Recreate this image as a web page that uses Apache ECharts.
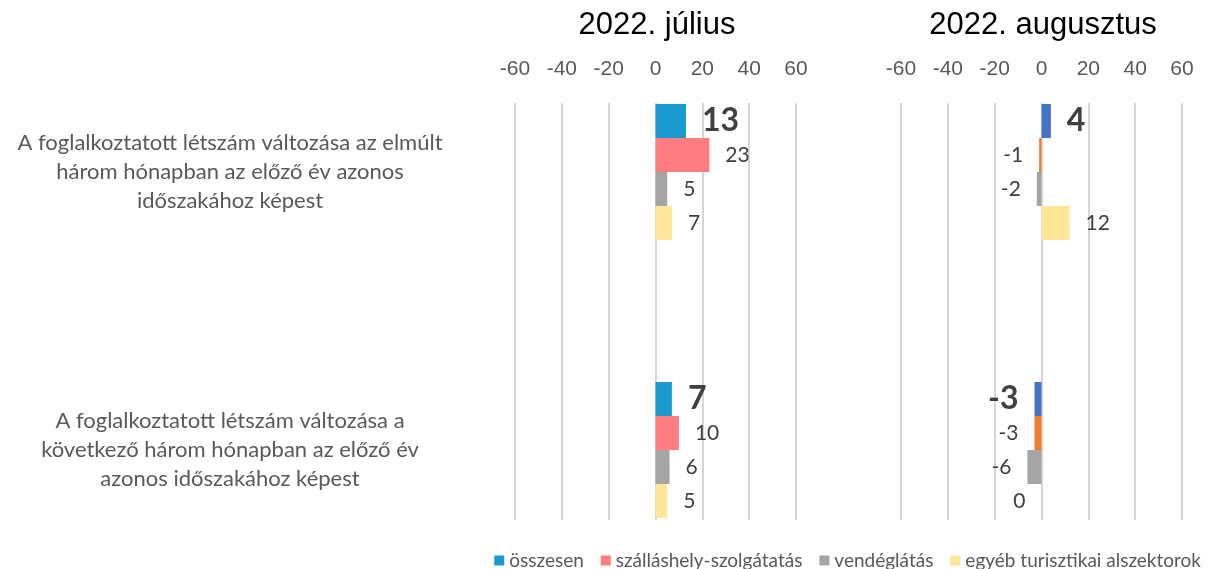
<!DOCTYPE html>
<html>
<head>
<meta charset="utf-8">
<script src="https://cdn.jsdelivr.net/npm/echarts@6/dist/echarts.min.js"></script>
<style>
  html, body { margin: 0; padding: 0; background: #fff; }
  #chart { width: 1209px; height: 569px; }
</style>
</head>
<body>
<div id="chart"></div>
<script>
// kategóriák (y tengely)
const categories = [
    'A foglalkoztatott létszám változása az elmúlt\nhárom hónapban az előző év azonos\nidőszakához képest',
    'A foglalkoztatott létszám változása a\nkövetkező három hónapban az előző év\nazonos időszakához képest'
];
const seriesNames = ['összesen', 'szálláshely-szolgátatás', 'vendéglátás', 'egyéb turisztikai alszektorok'];
const panelTitles = ['2022. július', '2022. augusztus'];
const xTicks = [-60, -40, -20, 0, 20, 40, 60];

// értékek sorozatonként: [elmúlt, következő]
const julyOsszesen = [13, 7];
const julySzallas = [23, 10];
const julyVendeg = [5, 6];
const julyEgyeb = [7, 5];
const augOsszesen = [4, -3];
const augSzallas = [-1, -3];
const augVendeg = [-2, -6];
const augEgyeb = [12, 0];

const julyColors = ['#1A9AD0', '#FF7C80', '#A5A5A5', '#FFE699'];
const augColors = ['#4472C4', '#ED7D31', '#A5A5A5', '#FFE699'];

let myChart = echarts.init(document.getElementById('chart'));

const FONT = 'Lato, Carlito, Calibri, sans-serif';
const NARROW = '"Liberation Sans Narrow", "Arial Narrow", sans-serif';

const panelLeft = [515, 901];
const panelWidth = 281;

function makeSeries(values, idx, color, xi) {
    return {
        type: 'bar',
        name: seriesNames[idx],
        xAxisIndex: xi,
        yAxisIndex: xi,
        barWidth: 34,
        barGap: '0%',
        clip: false,
        itemStyle: { color: color },
        data: values.map(function (v) {
            return {
                value: v,
                label: { position: v > 0 ? 'right' : 'left' }
            };
        }),
        label: {
            show: true,
            distance: 16,
            color: '#404040',
            fontFamily: FONT,
            fontSize: idx === 0 ? 32 : 21,
            fontWeight: idx === 0 ? 'bold' : 'normal'
        },
        z: 3
    };
}

let grids = [];
let xAxes = [];
let yAxes = [];
for (let p = 0; p < 2; p++) {
    // sávok rácsa: a kategóriák a rács szélein (boundaryGap: false)
    grids.push({ left: panelLeft[p], width: panelWidth, top: 172, height: 278 });
    // rácsvonalak rácsa
    grids.push({ left: panelLeft[p], width: panelWidth, top: 103, height: 417 });
}
for (let g = 0; g < 4; g++) {
    const isLines = g % 2 === 1;
    xAxes.push({
        type: 'value',
        gridIndex: g,
        min: xTicks[0],
        max: xTicks[xTicks.length - 1],
        interval: xTicks[1] - xTicks[0],
        position: 'top',
        show: isLines,
        axisLine: { show: false },
        axisTick: { show: false },
        axisLabel: {
            show: isLines,
            margin: 23,
            color: '#595959',
            fontFamily: NARROW,
            fontSize: 21
        },
        splitLine: {
            show: isLines,
            lineStyle: { color: '#D6D6D6', width: 2 }
        }
    });
    yAxes.push({
        type: 'category',
        gridIndex: g,
        inverse: true,
        boundaryGap: false,
        data: categories,
        show: g === 0,
        axisLine: { show: false },
        axisTick: { show: false },
        splitLine: { show: false },
        axisLabel: {
            show: g === 0,
            align: 'center',
            margin: 285,
            color: '#595959',
            fontFamily: FONT,
            fontSize: 22,
            lineHeight: 29
        }
    });
}

let option = {
    animation: false,
    title: [
        {
            text: panelTitles[0], left: 652, top: 5, textAlign: 'center',
            textStyle: { fontFamily: 'Liberation Sans, Arial, sans-serif', fontSize: 31, fontWeight: 'normal', color: '#000' }
        },
        {
            text: panelTitles[1], left: 1038, top: 5, textAlign: 'center',
            textStyle: { fontFamily: 'Liberation Sans, Arial, sans-serif', fontSize: 31, fontWeight: 'normal', color: '#000' }
        }
    ],
    legend: {
        data: seriesNames,
        right: 3,
        top: 546,
        icon: 'rect',
        itemWidth: 10,
        itemHeight: 10,
        itemGap: 17,
        textStyle: { fontFamily: FONT, fontSize: 19, color: '#595959' }
    },
    grid: grids,
    xAxis: xAxes,
    yAxis: yAxes,
    series: [
        makeSeries(julyOsszesen, 0, julyColors[0], 0),
        makeSeries(julySzallas, 1, julyColors[1], 0),
        makeSeries(julyVendeg, 2, julyColors[2], 0),
        makeSeries(julyEgyeb, 3, julyColors[3], 0),
        makeSeries(augOsszesen, 0, augColors[0], 2),
        makeSeries(augSzallas, 1, augColors[1], 2),
        makeSeries(augVendeg, 2, augColors[2], 2),
        makeSeries(augEgyeb, 3, augColors[3], 2)
    ]
};
myChart.setOption(option);
window.addEventListener('resize', function () { myChart.resize() });
</script>
</body>
</html>
